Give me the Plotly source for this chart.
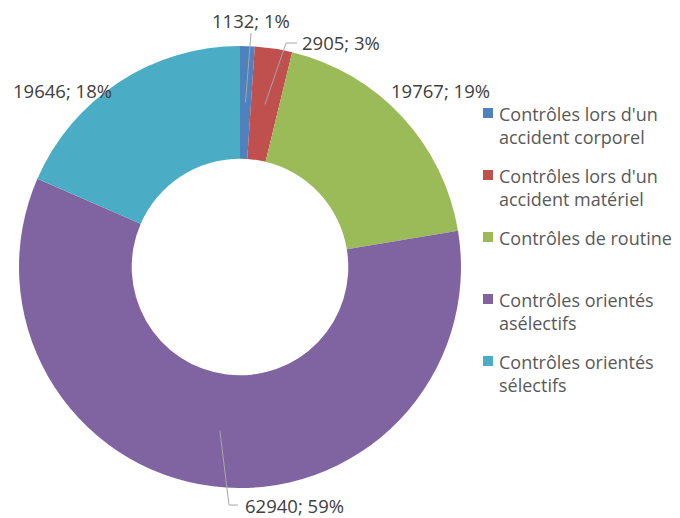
import math
import plotly.graph_objects as go

categories = [
    "Contrôles lors d'un<br>accident corporel",
    "Contrôles lors d'un<br>accident matériel",
    "Contrôles de routine",
    "Contrôles orientés<br>asélectifs",
    "Contrôles orientés<br>sélectifs",
]
values = [1132, 2905, 19767, 62940, 19646]
colors = ["#4F81BD", "#C0504D", "#9BBB59", "#8064A2", "#4BACC6"]

W, H = 680, 518
CX, CY, R = 240, 267, 221
HOLE = 0.49
FONT = "Open Sans"
LBL_SIZE = 18.5
LEG_SIZE = 18

# label text centres (px) and leader line bend/end points
label_pos = [(251, 20), (341, 43), (440, 91), (294, 505), (62, 91)]
leader = [
    [(251, 33)],
    [(286, 43), (297, 43)],
    None,
    [(229, 505), (238, 505)],
    None,
]

# custom legend layout (px)
LEG_MARK_X, LEG_TEXT_X, LEG_Y0, LEG_PITCH, MARK = 488, 497, 113, 62, 10


def px2paper(x, y):
    return x / W, 1 - y / H


fig = go.Figure(go.Pie(
    labels=[c.replace("<br>", " ") for c in categories], values=values,
    sort=False, direction="clockwise", rotation=0, hole=HOLE,
    textinfo="none", hoverinfo="label+value+percent", showlegend=False,
    marker=dict(colors=colors, line=dict(width=0)),
    domain=dict(x=[(CX - R) / W, (CX + R) / W],
                y=[1 - (CY + R) / H, 1 - (CY - R) / H]),
))

total = sum(values)
cum = 0
shapes, annots = [], []
for i, v in enumerate(values):
    mid = (cum + v / 2) / total * 2 * math.pi
    cum += v
    pct = round(v / total * 100)
    x, y = px2paper(*label_pos[i])
    annots.append(dict(x=x, y=y, xref="paper", yref="paper", text=f"{v}; {pct}%",
                       showarrow=False, borderpad=0,
                       font=dict(size=LBL_SIZE, color="#404040", family=FONT),
                       xanchor="center", yanchor="middle"))
    if leader[i]:
        rm = R * (1 + HOLE) / 2
        sx, sy = CX + rm * math.sin(mid), CY - rm * math.cos(mid)
        pts = [(sx, sy)] + leader[i]
        path = "M " + " L ".join("{},{}".format(*px2paper(a, b)) for a, b in pts)
        shapes.append(dict(type="path", path=path, xref="paper", yref="paper",
                           line=dict(color="#A6A6A6", width=1)))

# legend
for i, (cat, col) in enumerate(zip(categories, colors)):
    yc = LEG_Y0 + LEG_PITCH * i
    x0, y0 = px2paper(LEG_MARK_X - MARK / 2, yc + MARK / 2)
    x1, y1 = px2paper(LEG_MARK_X + MARK / 2, yc - MARK / 2)
    shapes.append(dict(type="rect", xref="paper", yref="paper", x0=x0, y0=y0, x1=x1, y1=y1,
                       fillcolor=col, line=dict(width=0)))
    tx, ty = px2paper(LEG_TEXT_X, yc - LEG_SIZE * 0.65 - 1)
    annots.append(dict(x=tx, y=ty, xref="paper", yref="paper", text=cat, showarrow=False,
                       xanchor="left", yanchor="top", align="left",
                       font=dict(size=LEG_SIZE, color="#595959", family=FONT)))

fig.update_layout(
    width=W, height=H, margin=dict(l=0, r=0, t=0, b=0),
    paper_bgcolor="white", plot_bgcolor="white",
    font=dict(family=FONT, color="#595959", size=16),
    showlegend=False,
    shapes=shapes, annotations=annots,
)
fig.write_html("out.html", config={"displayModeBar": False},
               post_script="document.body.style.margin='0';")
